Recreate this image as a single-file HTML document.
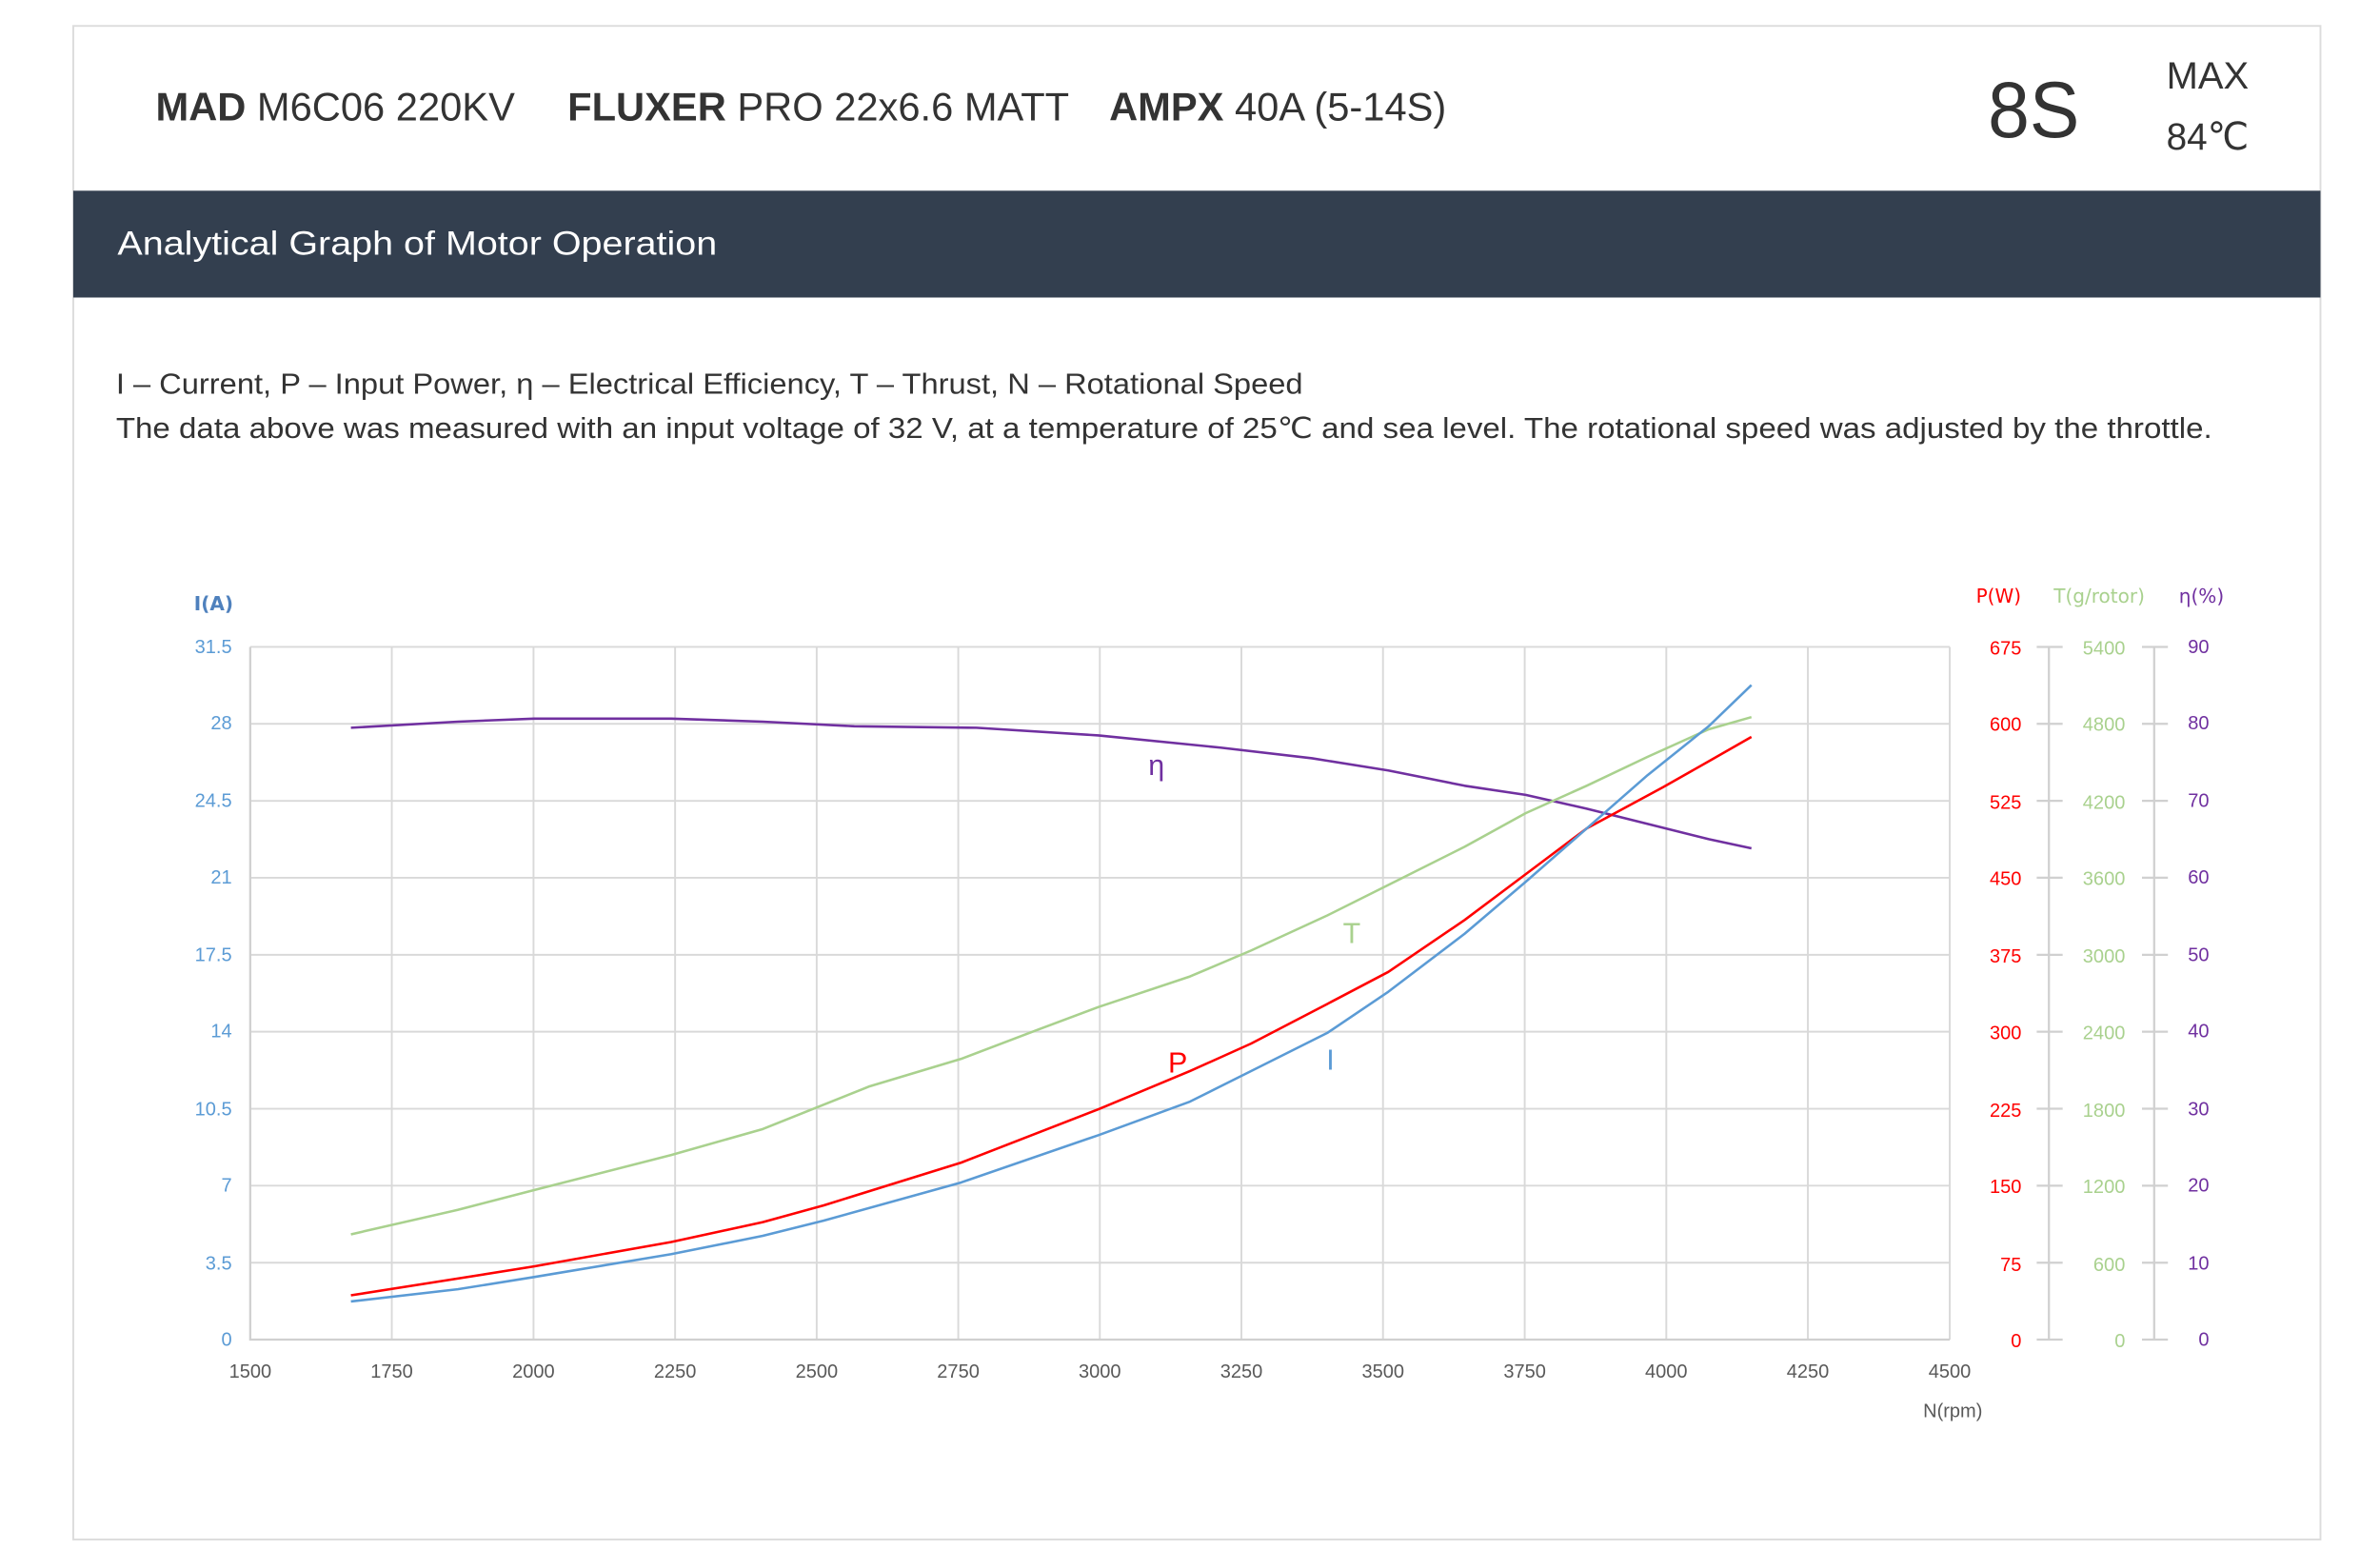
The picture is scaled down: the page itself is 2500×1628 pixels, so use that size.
<!DOCTYPE html>
<html><head><meta charset="utf-8"><style>
html,body{margin:0;padding:0;background:#fff;width:2500px;height:1628px;overflow:hidden}
svg{display:block}
text{font-family:"Liberation Sans","DejaVu Sans",sans-serif}
.t{font-family:"DejaVu Sans","Liberation Sans",sans-serif;font-size:12.5px}
</style></head><body>
<svg width="2500" height="1628" viewBox="0 0 1560 1015.9" xmlns="http://www.w3.org/2000/svg">
<rect x="48" y="17" width="1473" height="992" fill="#fff" stroke="#dcdcdc" stroke-width="1.2"/>
<text y="79" font-size="26" fill="#333"><tspan x="102" font-weight="bold">MAD</tspan><tspan> M6C06 220KV</tspan></text>
<text y="79" font-size="26" fill="#333"><tspan x="372" font-weight="bold">FLUXER</tspan><tspan> PRO 22x6.6 MATT</tspan></text>
<text y="79" font-size="26" fill="#333"><tspan x="727" font-weight="bold">AMPX</tspan><tspan> 40A (5-14S)</tspan></text>
<text x="1303" y="90" font-size="52" fill="#333" textLength="60" lengthAdjust="spacingAndGlyphs">8S</text>
<text x="1420" y="58" font-size="25" fill="#333" textLength="54" lengthAdjust="spacingAndGlyphs">MAX</text>
<text x="1420" y="98" font-size="25" fill="#333" textLength="54" lengthAdjust="spacingAndGlyphs">84℃</text>
<rect x="48" y="125" width="1473" height="70" fill="#333f4f"/>
<text x="77" y="167" font-size="22" fill="#fff" textLength="393" lengthAdjust="spacingAndGlyphs">Analytical Graph of Motor Operation</text>
<text x="76" y="258" font-size="19" fill="#333" textLength="778" lengthAdjust="spacingAndGlyphs">I – Current, P – Input Power, η – Electrical Efficiency, T – Thrust,   N – Rotational Speed</text>
<text x="76" y="287" font-size="19" fill="#333" textLength="1374" lengthAdjust="spacingAndGlyphs">The data above was measured with an input voltage of 32 V, at a temperature of 25℃ and sea level. The rotational speed was adjusted by the throttle.</text>
<g stroke="#d9d9d9" stroke-width="1.2" fill="none">
<path d="M164 424H1278M164 474.4H1278M164 524.9H1278M164 575.3H1278M164 625.8H1278M164 676.2H1278M164 726.7H1278M164 777.1H1278M164 827.6H1278"/>
<path d="M256.8 424V878M349.7 424V878M442.5 424V878M535.3 424V878M628.1 424V878M720.9 424V878M813.7 424V878M906.5 424V878M999.4 424V878M1092.2 424V878M1185 424V878M1278 424V878"/>
</g>
<g stroke="#d0d0d0" stroke-width="1.4" fill="none"><path d="M164 424V878H1278"/>
<path d="M1343 424V878M1335 424H1352M1335 474.4H1352M1335 524.9H1352M1335 575.3H1352M1335 625.8H1352M1335 676.2H1352M1335 726.7H1352M1335 777.1H1352M1335 827.6H1352M1335 878H1352"/>
<path d="M1412 424V878M1404 424H1421M1404 474.4H1421M1404 524.9H1421M1404 575.3H1421M1404 625.8H1421M1404 676.2H1421M1404 726.7H1421M1404 777.1H1421M1404 827.6H1421M1404 878H1421"/></g>
<g class="t" fill="#5b9bd5" text-anchor="end">
<text x="152" y="428">31.5</text><text x="152" y="478">28</text><text x="152" y="529">24.5</text><text x="152" y="579">21</text><text x="152" y="630">17.5</text><text x="152" y="680">14</text><text x="152" y="731">10.5</text><text x="152" y="781">7</text><text x="152" y="832">3.5</text><text x="152" y="882">0</text></g>
<text class="t" x="140" y="400" fill="#4f81bd" text-anchor="middle" font-weight="bold">I(A)</text>
<g class="t" fill="#ff0000" text-anchor="end">
<text x="1325" y="429">675</text><text x="1325" y="479">600</text><text x="1325" y="530">525</text><text x="1325" y="580">450</text><text x="1325" y="631">375</text><text x="1325" y="681">300</text><text x="1325" y="732">225</text><text x="1325" y="782">150</text><text x="1325" y="833">75</text><text x="1325" y="883">0</text></g>
<g class="t" fill="#a9d18e" text-anchor="end">
<text x="1393" y="429">5400</text><text x="1393" y="479">4800</text><text x="1393" y="530">4200</text><text x="1393" y="580">3600</text><text x="1393" y="631">3000</text><text x="1393" y="681">2400</text><text x="1393" y="732">1800</text><text x="1393" y="782">1200</text><text x="1393" y="833">600</text><text x="1393" y="883">0</text></g>
<g class="t" fill="#7030a0" text-anchor="end">
<text x="1448" y="428">90</text><text x="1448" y="478">80</text><text x="1448" y="529">70</text><text x="1448" y="579">60</text><text x="1448" y="630">50</text><text x="1448" y="680">40</text><text x="1448" y="731">30</text><text x="1448" y="781">20</text><text x="1448" y="832">10</text><text x="1448" y="882">0</text></g>
<text class="t" x="1310" y="395" fill="#ff0000" text-anchor="middle">P(W)</text>
<text class="t" x="1376" y="395" fill="#a9d18e" text-anchor="middle">T(g/rotor)</text>
<text class="t" x="1443" y="395" fill="#7030a0" text-anchor="middle">η(%)</text>
<g class="t" fill="#595959" text-anchor="middle">
<text x="164" y="903">1500</text><text x="256.8" y="903">1750</text><text x="349.7" y="903">2000</text><text x="442.5" y="903">2250</text><text x="535.3" y="903">2500</text><text x="628.1" y="903">2750</text><text x="720.9" y="903">3000</text><text x="813.7" y="903">3250</text><text x="906.5" y="903">3500</text><text x="999.4" y="903">3750</text><text x="1092.2" y="903">4000</text><text x="1185" y="903">4250</text><text x="1278" y="903">4500</text>
<text x="1280" y="929">N(rpm)</text></g>
<g fill="none" stroke-width="1.6" stroke-linejoin="round">
<polyline stroke="#7030a0" points="230,477 300,473 350,471 400,471 440,471 500,473 560,476 640,477 720,482 800,490 860,497 910,505 960,515 1000,521 1040,530 1080,540 1120,550 1148,556"/>
<polyline stroke="#a9d18e" points="230,809 300,793 350,780 440,757 500,740 540,724 570,712 630,694 680,675 720,660 780,640 820,623 870,600 910,580 960,555 1000,533 1040,515 1080,496 1120,478 1148,470"/>
<polyline stroke="#ff0000" points="230,849 300,838 350,830 440,814 500,801 540,790 630,762 720,727 780,702 820,684 870,658 910,637 960,603 1000,573 1040,543 1090,516 1120,499 1148,483"/>
<polyline stroke="#5b9bd5" points="230,853 300,845 350,837 440,822 500,810 540,800 630,775 720,744 780,722 820,702 870,677 910,650 960,612 1000,578 1040,543 1080,508 1120,476 1148,449"/>
</g>
<text x="758" y="508" font-size="19" fill="#7030a0" text-anchor="middle">η</text>
<text x="886" y="618" font-size="19" fill="#a9d18e" text-anchor="middle">T</text>
<text x="772" y="703" font-size="19" fill="#ff0000" text-anchor="middle">P</text>
<text x="872" y="701" font-size="19" fill="#5b9bd5" text-anchor="middle">I</text>
</svg>
</body></html>
